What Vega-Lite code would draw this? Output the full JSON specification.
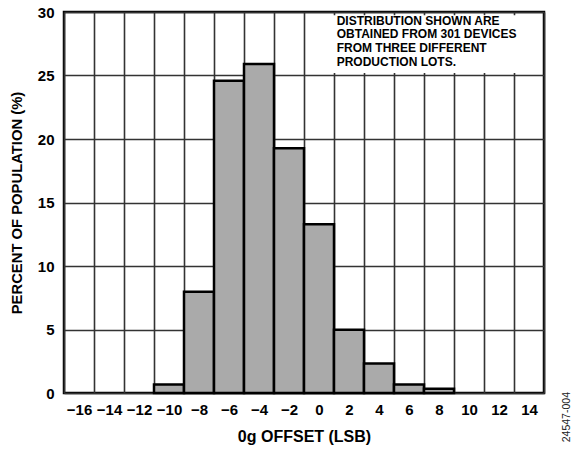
{
  "$schema": "https://vega.github.io/schema/vega-lite/v6.json",
  "width": 480,
  "height": 381,
  "autosize": "none",
  "padding": {"left": 64, "top": 12, "right": 30, "bottom": 57},
  "config": {
    "font": "Liberation Sans",
    "view": {"stroke": "#000", "strokeWidth": 2.5},
    "axis": {
      "labelFont": "Liberation Sans", "labelFontWeight": "bold", "labelFontSize": 15, "labelColor": "#000",
      "titleFont": "Liberation Sans", "titleFontWeight": "bold", "titleFontSize": 15.5, "titleColor": "#000",
      "gridColor": "#333", "gridWidth": 1.6, "gridOpacity": 1,
      "ticks": false, "domain": false
    }
  },
  "layer": [
    {
      "data": {
        "values": [
          {"lo": -11, "hi": -9, "pct": 0.66},
          {"lo": -9, "hi": -7, "pct": 7.97},
          {"lo": -7, "hi": -5, "pct": 24.58},
          {"lo": -5, "hi": -3, "pct": 25.91},
          {"lo": -3, "hi": -1, "pct": 19.27},
          {"lo": -1, "hi": 1, "pct": 13.29},
          {"lo": 1, "hi": 3, "pct": 4.98},
          {"lo": 3, "hi": 5, "pct": 2.33},
          {"lo": 5, "hi": 7, "pct": 0.66},
          {"lo": 7, "hi": 9, "pct": 0.33}
        ]
      },
      "mark": {"type": "bar", "fill": "#aaaaaa", "stroke": "#000", "strokeWidth": 2.5},
      "encoding": {
        "x": {
          "field": "lo", "type": "quantitative",
          "scale": {"domain": [-17, 15], "nice": false, "zero": false},
          "axis": {
            "values": [-17, -15, -13, -11, -9, -7, -5, -3, -1, 1, 3, 5, 7, 9, 11, 13, 15],
            "tickCount": 40,
            "grid": true,
            "labelOffset": 15,
            "labelPadding": 9,
            "labelFlush": false,
            "labelBound": false,
            "labelOverlap": false,
            "labelExpr": "datum.value >= 15 ? '' : replace(format(datum.value + 1, 'd'), '-', '\u2212')",
            "title": "0g OFFSET (LSB)",
            "titleFontSize": 16,
            "titlePadding": 11
          }
        },
        "x2": {"field": "hi"},
        "y": {
          "field": "pct", "type": "quantitative",
          "scale": {"domain": [0, 30], "nice": false, "padding": 0},
          "axis": {
            "values": [0, 5, 10, 15, 20, 25, 30],
            "tickCount": 20,
            "grid": true,
            "labelPadding": 10,
            "labelFlush": false,
            "title": "PERCENT OF POPULATION (%)",
            "titleFontSize": 14.8,
            "titlePadding": 13
          }
        },
        "y2": {"datum": 0}
      }
    },
    {
      "data": {"values": [{}]},
      "mark": {"type": "rect", "fill": "#fff", "stroke": null},
      "encoding": {
        "x": {"datum": 0.9, "type": "quantitative"},
        "x2": {"datum": 14.85},
        "y": {"datum": 29.75, "type": "quantitative"},
        "y2": {"datum": 25.2}
      }
    },
    {
      "data": {"values": [{}]},
      "mark": {
        "type": "text",
        "text": ["DISTRIBUTION SHOWN ARE", "OBTAINED FROM 301 DEVICES", "FROM THREE DIFFERENT", "PRODUCTION LOTS."],
        "font": "Liberation Sans", "fontWeight": "bold", "fontSize": 12, "lineHeight": 13.7,
        "align": "left", "baseline": "top", "color": "#000"
      },
      "encoding": {
        "x": {"datum": 1.18, "type": "quantitative"},
        "y": {"datum": 29.7, "type": "quantitative"}
      }
    },
    {
      "data": {"values": [{}]},
      "mark": {
        "type": "text", "text": "24547-004", "angle": 270,
        "font": "Liberation Sans", "fontSize": 10.5, "align": "center", "baseline": "middle", "color": "#222"
      },
      "encoding": {
        "x": {"datum": 16.5, "type": "quantitative"},
        "y": {"datum": -1.9, "type": "quantitative"}
      }
    }
  ]
}
